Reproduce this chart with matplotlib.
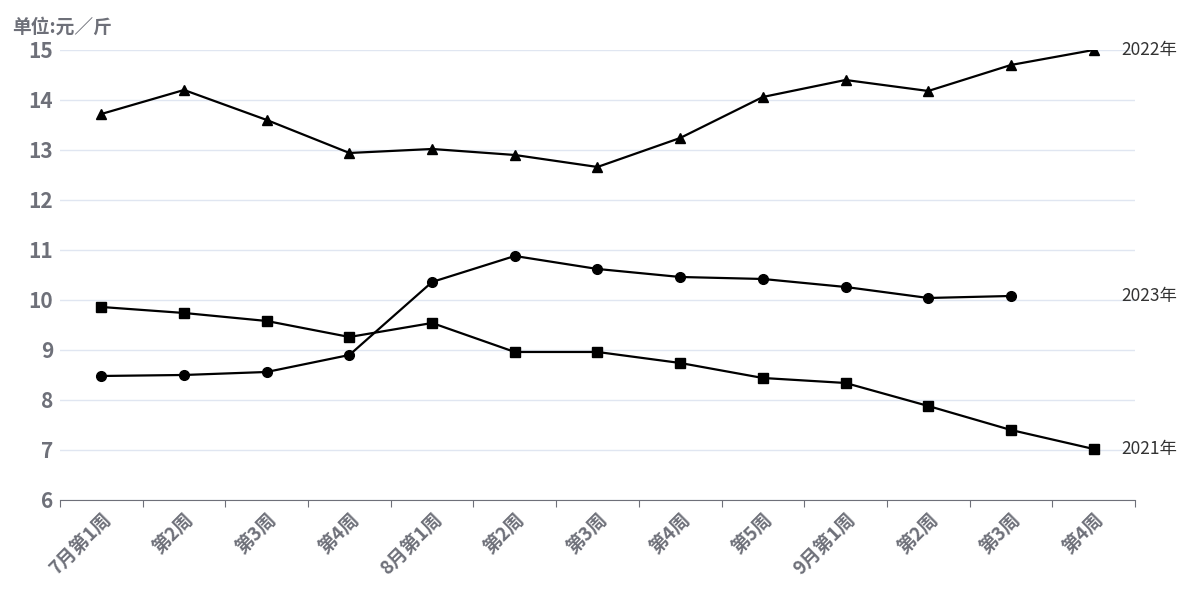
import matplotlib
matplotlib.use('Agg')
import matplotlib.pyplot as plt
import numpy as np

plt.rcParams['font.family'] = ['Noto Sans CJK SC', 'DejaVu Sans']

weeks = ['7月第1周', '第2周', '第3周', '第4周', '8月第1周', '第2周', '第3周', '第4周',
         '第5周', '9月第1周', '第2周', '第3周', '第4周']
y2022 = [13.72, 14.2, 13.6, 12.94, 13.02, 12.9, 12.66, 13.24, 14.06, 14.4, 14.18, 14.7, 15.0]
y2023 = [8.48, 8.5, 8.56, 8.9, 10.36, 10.88, 10.62, 10.46, 10.42, 10.26, 10.04, 10.08, np.nan]
y2021 = [9.86, 9.74, 9.58, 9.26, 9.54, 8.96, 8.96, 8.74, 8.44, 8.34, 7.88, 7.4, 7.02]

series = [('2022年', y2022, '^'), ('2023年', y2023, 'o'), ('2021年', y2021, 's')]

fig = plt.figure(figsize=(12, 6), dpi=100)
ax = fig.add_axes([0.05, 0.1667, 0.8958, 0.75])

x = np.arange(len(weeks))
axis_gray = '#6e7079'
for name, vals, mk in series:
    ax.plot(x, vals, color='black', lw=1.6, marker=mk, markersize=7, zorder=3)
    v = np.array(vals, dtype=float)
    last = v[~np.isnan(v)][-1]
    ax.annotate(name, xy=(1.0, last), xycoords=('axes fraction', 'data'),
                xytext=(-10, 0), textcoords='offset points', ha='left', va='center',
                fontsize=12.5, color='#333333', annotation_clip=False)

ax.set_xlim(-0.5, len(weeks) - 0.5)
ax.set_ylim(6, 15)
ax.set_yticks(range(6, 16))
ax.grid(axis='y', color='#e0e6f1', lw=1)
ax.set_axisbelow(True)
for s in ['top', 'right', 'left']:
    ax.spines[s].set_visible(False)
ax.spines['bottom'].set_color(axis_gray)

ax.set_xticks(np.arange(-0.5, len(weeks)), minor=False)
ax.set_xticklabels([])
ax.set_xticks(x, minor=True)
ax.set_xticklabels(weeks, minor=True, rotation=45, ha='right', rotation_mode='anchor',
                   fontsize=13.5, fontweight='bold', color=axis_gray)
ax.tick_params(axis='x', which='major', length=5, color=axis_gray)
ax.tick_params(axis='x', which='minor', length=0, pad=7)
ax.tick_params(axis='y', length=0, labelsize=15, labelcolor=axis_gray, pad=5)
for lbl in ax.get_yticklabels():
    lbl.set_fontweight('bold')

fig.text(0.01, 0.955, '单位:元／斤', fontsize=13.5, fontweight='bold', color=axis_gray,
         ha='left', va='center')

fig.savefig('out.png', dpi=100)
